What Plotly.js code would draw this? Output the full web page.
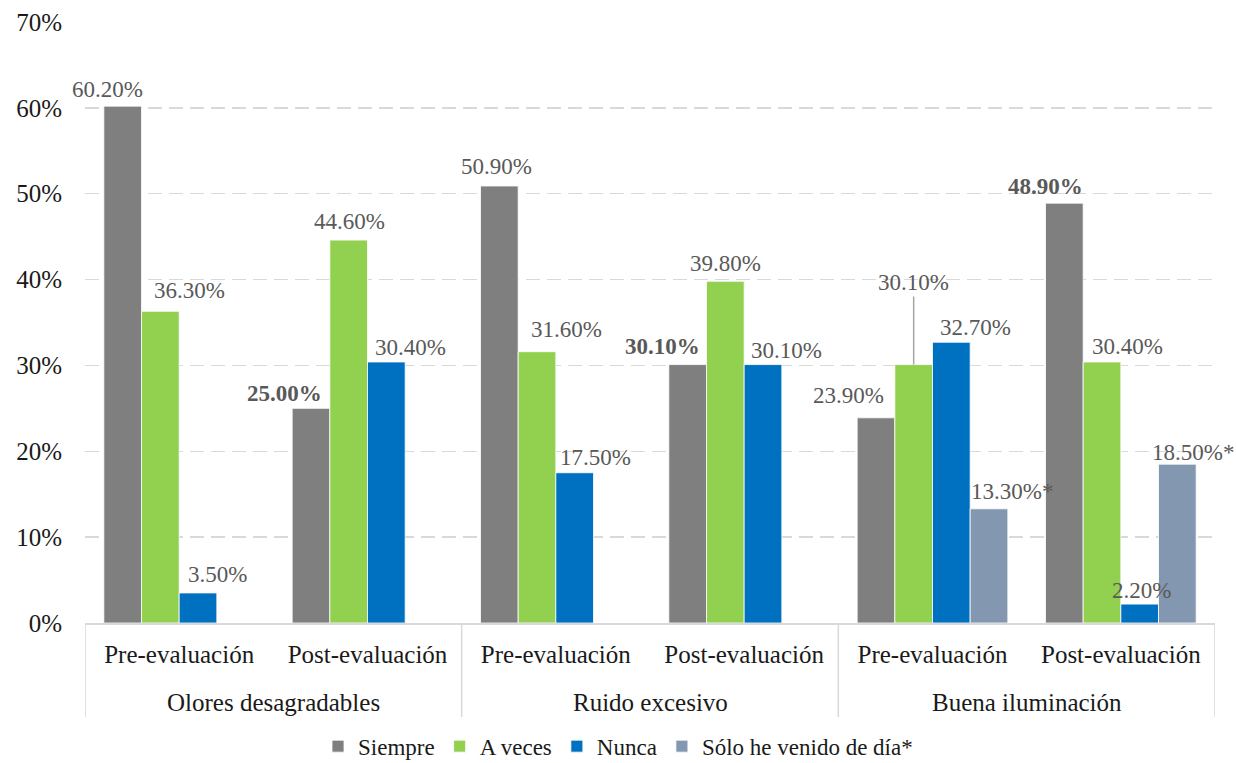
<!DOCTYPE html>
<html>
<head>
<meta charset="utf-8">
<script src="https://cdn.plot.ly/plotly-3.0.1.min.js"></script>
<style>
html,body{margin:0;padding:0;background:#fff;}
#chart{width:1236px;height:763px;}
#chart text{font-family:"Liberation Serif","Times New Roman",Times,serif !important;}
</style>
</head>
<body>
<div id="chart"></div>
<script>
// ---- data ----
const groups = ['Olores desagradables','Olores desagradables','Ruido excesivo','Ruido excesivo','Buena iluminación','Buena iluminación'];
const phases = ['Pre-evaluación','Post-evaluación','Pre-evaluación','Post-evaluación','Pre-evaluación','Post-evaluación'];
const seriesNames = ['Siempre','A veces','Nunca','Sólo he venido de día*'];
const siempre = [60.2, 25.0, 50.9, 30.1, 23.9, 48.9];
const aVeces  = [36.3, 44.6, 31.6, 39.8, 30.1, 30.4];
const nunca   = [3.5, 30.4, 17.5, 30.1, 32.7, 2.2];
const soloDia = [null, null, null, null, 13.3, 18.5];
const yTickVals = [0, 10, 20, 30, 40, 50, 60, 70];
const yTickText = ['0%', '10%', '20%', '30%', '40%', '50%', '60%', '70%'];
const labelSuffix = ['', '', '', '*'];
const boldLabels = [
  [false, true, false, true, false, true],
  [false, false, false, false, false, false],
  [false, false, false, false, false, false],
  [false, false, false, false, false, false]
];

// ---- styles ----
const colors = ['#7f7f7f', '#92d050', '#0070c0', '#8497b0'];
// label offsets in px: dx from bar centre, dy above bar top
const labelDx = [
  [-15, -27, -3, -25, -28, -19],
  [29, 1, 29, 0, 0, 25],
  [19, 24, 21, 23, 24, 2],
  [0, 0, 0, 0, 23, 16]
];
const labelDy = [
  [17, 15, 19, 18, 22, 17],
  [21, 19, 22, 18, 82, 15],
  [18, 14, 15, 14, 15, 14],
  [0, 0, 0, 0, 17, 12]
];
const leader = [
  [false, false, false, false, false, false],
  [false, false, false, false, true, false],
  [false, false, false, false, false, false],
  [false, false, false, false, false, false]
];

const allSeries = [siempre, aVeces, nunca, soloDia];
const FONT = '"Liberation Serif", "Times New Roman", Times, serif';
const idx = phases.map((_, i) => i);

const traces = allSeries.map((vals, k) => ({
  type: 'bar',
  name: seriesNames[k],
  x: idx,
  y: vals,
  marker: {color: colors[k], line: {color: '#ffffff', width: 0.8}},
  hoverinfo: 'none'
}));

const nSeries = allSeries.length;
const slot = 0.8 / nSeries;
const annotations = [];
allSeries.forEach((vals, k) => {
  vals.forEach((v, i) => {
    if (v === null) return;
    let t = v.toFixed(2) + '%' + labelSuffix[k];
    if (boldLabels[k][i]) t = '<b>' + t + '</b>';
    const xpos = i + (k - (nSeries - 1) / 2) * slot;
    const a = {
      xref: 'x', yref: 'y', x: xpos, y: v, text: t,
      font: {family: FONT, size: 23, color: '#595959'},
      xanchor: 'center', yanchor: 'middle'
    };
    if (leader[k][i]) {
      a.showarrow = true; a.arrowhead = 0; a.arrowwidth = 1.5; a.arrowcolor = '#a6a6a6';
      a.ax = labelDx[k][i]; a.ay = -labelDy[k][i]; a.standoff = 0;
    } else {
      a.showarrow = false; a.xshift = labelDx[k][i]; a.yshift = labelDy[k][i];
    }
    annotations.push(a);
  });
});

// outer group labels and dividers
const shapes = [];
const groupNames = [];
const groupStart = [];
groups.forEach((g, i) => {
  if (i === 0 || groups[i - 1] !== g) { groupNames.push(g); groupStart.push(i); }
});
const divLen = -94 / 601;
groupNames.forEach((g, j) => {
  const s = groupStart[j];
  const e = (j + 1 < groupStart.length ? groupStart[j + 1] : groups.length) - 1;
  annotations.push({
    xref: 'x', yref: 'paper', x: (s + e) / 2, y: 0, yshift: -79,
    text: g, showarrow: false, xanchor: 'center', yanchor: 'middle',
    font: {family: FONT, size: 25, color: '#1a1a1a'}
  });
  shapes.push({type: 'line', xref: 'x', yref: 'paper', x0: s - 0.5, x1: s - 0.5, y0: 0, y1: divLen,
    line: {color: '#d9d9d9', width: 1.5}});
});
shapes.push({type: 'line', xref: 'x', yref: 'paper', x0: groups.length - 0.5, x1: groups.length - 0.5, y0: 0, y1: divLen,
  line: {color: '#d9d9d9', width: 1.5}});

const layout = {
  width: 1236, height: 763,
  margin: {l: 85, r: 21, t: 22, b: 140, autoexpand: false},
  paper_bgcolor: '#ffffff', plot_bgcolor: '#ffffff',
  font: {family: FONT, color: '#1a1a1a'},
  barmode: 'group', bargap: 0.2, bargroupgap: 0,
  showlegend: true,
  legend: {
    orientation: 'h', xref: 'container', yref: 'paper',
    x: 0.5, xanchor: 'center', y: -0.205, yanchor: 'middle',
    font: {family: FONT, size: 23, color: '#1a1a1a'},
    itemwidth: 30, traceorder: 'normal'
  },
  xaxis: {
    range: [-0.5, phases.length - 0.5],
    tickmode: 'array', tickvals: idx, ticktext: phases,
    showline: true, linecolor: '#d9d9d9', linewidth: 1.5,
    showgrid: false, zeroline: false,
    ticks: '', ticklabelstandoff: 8,
    tickfont: {family: FONT, size: 25, color: '#1a1a1a'},
    fixedrange: true
  },
  yaxis: {
    range: [0, 70], tickmode: 'array', tickvals: yTickVals, ticktext: yTickText,
    showgrid: true, gridcolor: '#d9d9d9', gridwidth: 1.5, griddash: '14px,7px',
    zeroline: false, showline: false, ticks: '',
    ticklabelstandoff: 22,
    tickfont: {family: FONT, size: 25, color: '#1a1a1a'},
    fixedrange: true
  },
  annotations: annotations,
  shapes: shapes
};

Plotly.newPlot('chart', traces, layout, {displayModeBar: false, staticPlot: true});
</script>
</body>
</html>
